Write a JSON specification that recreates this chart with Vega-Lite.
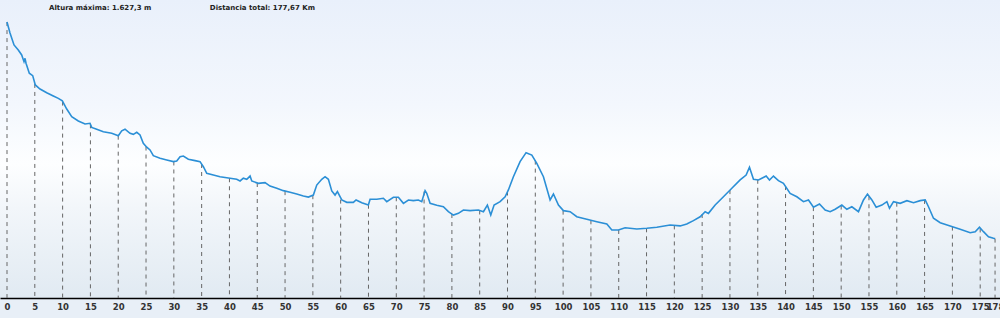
{
  "$schema": "https://vega.github.io/schema/vega-lite/v6.json",
  "width": 1000,
  "height": 298,
  "autosize": {"type": "none"},
  "padding": {"left": 0, "top": 0, "right": 0, "bottom": 20},
  "background": "#e8eff7",
  "config": {
    "view": {
      "stroke": null,
      "fill": {"gradient": "linear", "x1": 0, "y1": 0, "x2": 0, "y2": 1,
        "stops": [
          {"offset": 0, "color": "#e9f0fb"},
          {"offset": 0.35, "color": "#f3f7fd"},
          {"offset": 0.55, "color": "#fdfeff"},
          {"offset": 0.7, "color": "#f2f6fa"},
          {"offset": 1, "color": "#e1eaf2"}
        ]}
    }
  },
  "title": {
    "text": "Altura máxima: 1.627,3 m\u00a0\u00a0\u00a0\u00a0\u00a0\u00a0\u00a0\u00a0\u00a0\u00a0\u00a0\u00a0\u00a0\u00a0\u00a0\u00a0\u00a0\u00a0\u00a0\u00a0\u00a0\u00a0\u00a0\u00a0Distancia total: 177,67 Km",
    "anchor": "start",
    "frame": "group",
    "orient": "top",
    "offset": -11,
    "dx": 49,
    "font": "DejaVu Sans",
    "fontSize": 7,
    "fontWeight": "bold",
    "color": "#222222"
  },
  "datasets": {
    "perfil": [
      {"km": 0, "altitud": 1627}, {"km": 0.54, "altitud": 1562}, {"km": 1.26, "altitud": 1492}, {"km": 2.03, "altitud": 1462},
      {"km": 2.64, "altitud": 1433}, {"km": 3.06, "altitud": 1393}, {"km": 3.24, "altitud": 1413}, {"km": 3.42, "altitud": 1384},
      {"km": 4.01, "altitud": 1325}, {"km": 4.62, "altitud": 1311}, {"km": 5.09, "altitud": 1256}, {"km": 5.94, "altitud": 1232},
      {"km": 7.14, "altitud": 1210}, {"km": 8.33, "altitud": 1191}, {"km": 9.23, "altitud": 1177}, {"km": 9.95, "altitud": 1162},
      {"km": 10.74, "altitud": 1114}, {"km": 11.64, "altitud": 1069}, {"km": 12.82, "altitud": 1044}, {"km": 14.03, "altitud": 1026},
      {"km": 14.93, "altitud": 1030}, {"km": 15.23, "altitud": 1006}, {"km": 16.13, "altitud": 995}, {"km": 17.32, "altitud": 980},
      {"km": 18.83, "altitud": 971}, {"km": 20.02, "altitud": 957}, {"km": 20.63, "altitud": 986}, {"km": 21.22, "altitud": 995},
      {"km": 22.12, "altitud": 971}, {"km": 22.72, "altitud": 965}, {"km": 23.33, "altitud": 977}, {"km": 23.92, "altitud": 961},
      {"km": 24.51, "altitud": 912}, {"km": 25.13, "altitud": 889}, {"km": 25.72, "altitud": 873}, {"km": 26.31, "altitud": 839},
      {"km": 27.52, "altitud": 824}, {"km": 28.72, "altitud": 814}, {"km": 29.91, "altitud": 804}, {"km": 30.52, "altitud": 808},
      {"km": 31.12, "altitud": 833}, {"km": 31.71, "altitud": 837}, {"km": 32.61, "altitud": 818}, {"km": 33.81, "altitud": 810},
      {"km": 34.71, "altitud": 804}, {"km": 35.31, "altitud": 774}, {"km": 35.92, "altitud": 735}, {"km": 37.1, "altitud": 725},
      {"km": 38.31, "altitud": 715}, {"km": 40.11, "altitud": 706}, {"km": 41.31, "altitud": 700}, {"km": 41.91, "altitud": 690},
      {"km": 42.5, "altitud": 706}, {"km": 43.11, "altitud": 700}, {"km": 43.71, "altitud": 719}, {"km": 44.01, "altitud": 690},
      {"km": 45.2, "altitud": 676}, {"km": 46.4, "altitud": 680}, {"km": 47.3, "altitud": 660}, {"km": 48.51, "altitud": 647},
      {"km": 49.69, "altitud": 633}, {"km": 50.9, "altitud": 623}, {"km": 52.1, "altitud": 613}, {"km": 53.29, "altitud": 601},
      {"km": 54.19, "altitud": 595}, {"km": 55.09, "altitud": 607}, {"km": 55.7, "altitud": 666}, {"km": 56.6, "altitud": 700},
      {"km": 57.19, "altitud": 715}, {"km": 57.79, "altitud": 700}, {"km": 58.4, "altitud": 631}, {"km": 58.99, "altitud": 607},
      {"km": 59.41, "altitud": 627}, {"km": 59.89, "altitud": 597}, {"km": 60.2, "altitud": 578}, {"km": 61.1, "altitud": 564},
      {"km": 62.28, "altitud": 564}, {"km": 62.77, "altitud": 578}, {"km": 63.8, "altitud": 562}, {"km": 64.98, "altitud": 548},
      {"km": 65.29, "altitud": 582}, {"km": 66.49, "altitud": 582}, {"km": 67.68, "altitud": 588}, {"km": 68.29, "altitud": 568},
      {"km": 69.48, "altitud": 594}, {"km": 70.38, "altitud": 594}, {"km": 71.28, "altitud": 558}, {"km": 72.18, "altitud": 578},
      {"km": 73.07, "altitud": 574}, {"km": 73.97, "altitud": 578}, {"km": 74.58, "altitud": 568}, {"km": 75.18, "altitud": 633},
      {"km": 75.48, "altitud": 617}, {"km": 76.08, "altitud": 558}, {"km": 77.28, "altitud": 547}, {"km": 78.47, "altitud": 538},
      {"km": 79.37, "altitud": 509}, {"km": 80.27, "altitud": 489}, {"km": 81.17, "altitud": 499}, {"km": 82.07, "altitud": 519},
      {"km": 83.27, "altitud": 515}, {"km": 84.77, "altitud": 519}, {"km": 85.67, "altitud": 509}, {"km": 86.38, "altitud": 548},
      {"km": 86.99, "altitud": 489}, {"km": 87.59, "altitud": 548}, {"km": 88.67, "altitud": 568}, {"km": 89.57, "altitud": 597},
      {"km": 90.16, "altitud": 637}, {"km": 91.06, "altitud": 715}, {"km": 92.26, "altitud": 804}, {"km": 93.34, "altitud": 857},
      {"km": 94.37, "altitud": 843}, {"km": 95.27, "altitud": 794}, {"km": 96.46, "altitud": 715}, {"km": 97.66, "altitud": 578},
      {"km": 98.26, "altitud": 613}, {"km": 99.16, "altitud": 548}, {"km": 100.05, "altitud": 515}, {"km": 101.26, "altitud": 509},
      {"km": 102.46, "altitud": 479}, {"km": 104.26, "altitud": 464}, {"km": 106.06, "altitud": 450}, {"km": 107.86, "altitud": 436},
      {"km": 108.76, "altitud": 401}, {"km": 109.95, "altitud": 401}, {"km": 111.15, "altitud": 414}, {"km": 113.26, "altitud": 407},
      {"km": 115.05, "altitud": 411}, {"km": 116.85, "altitud": 417}, {"km": 119.24, "altitud": 430}, {"km": 121.04, "altitud": 425},
      {"km": 122.24, "altitud": 436}, {"km": 123.43, "altitud": 456}, {"km": 124.64, "altitud": 479}, {"km": 125.54, "altitud": 509},
      {"km": 126.13, "altitud": 499}, {"km": 127.34, "altitud": 548}, {"km": 128.83, "altitud": 597}, {"km": 130.34, "altitud": 647},
      {"km": 131.83, "altitud": 696}, {"km": 132.91, "altitud": 725}, {"km": 133.51, "altitud": 771}, {"km": 134.23, "altitud": 700},
      {"km": 135.13, "altitud": 696}, {"km": 135.74, "altitud": 706}, {"km": 136.51, "altitud": 719}, {"km": 137.11, "altitud": 696},
      {"km": 137.82, "altitud": 719}, {"km": 138.72, "altitud": 692}, {"km": 139.62, "altitud": 676}, {"km": 140.82, "altitud": 617},
      {"km": 142.03, "altitud": 597}, {"km": 143.22, "altitud": 568}, {"km": 144.12, "altitud": 578}, {"km": 145.02, "altitud": 535},
      {"km": 146.1, "altitud": 554}, {"km": 147.12, "altitud": 519}, {"km": 148.02, "altitud": 509}, {"km": 148.92, "altitud": 523},
      {"km": 150.12, "altitud": 548}, {"km": 151.02, "altitud": 523}, {"km": 151.92, "altitud": 538}, {"km": 153.11, "altitud": 509},
      {"km": 154.01, "altitud": 578}, {"km": 154.73, "altitud": 613}, {"km": 155.52, "altitud": 578}, {"km": 156.29, "altitud": 535},
      {"km": 157.32, "altitud": 548}, {"km": 158.22, "altitud": 568}, {"km": 158.69, "altitud": 529}, {"km": 159.41, "altitud": 568},
      {"km": 160.61, "altitud": 558}, {"km": 161.82, "altitud": 574}, {"km": 163.01, "altitud": 562}, {"km": 164.21, "altitud": 574},
      {"km": 165.11, "altitud": 578}, {"km": 165.7, "altitud": 538}, {"km": 166.6, "altitud": 470}, {"km": 167.81, "altitud": 444},
      {"km": 169.6, "altitud": 425}, {"km": 171.4, "altitud": 405}, {"km": 173.2, "altitud": 385}, {"km": 174.1, "altitud": 391},
      {"km": 174.87, "altitud": 417}, {"km": 175.59, "altitud": 391}, {"km": 176.49, "altitud": 361}, {"km": 177.39, "altitud": 352},
      {"km": 177.67, "altitud": 350}
    ],
    "marcas": [
      {"km": 0, "altitud": 1627}, {"km": 5, "altitud": 1262}, {"km": 10, "altitud": 1158}, {"km": 15, "altitud": 1024},
      {"km": 20, "altitud": 957}, {"km": 25, "altitud": 893}, {"km": 30, "altitud": 805}, {"km": 35, "altitud": 790},
      {"km": 40, "altitud": 706}, {"km": 45, "altitud": 678}, {"km": 50, "altitud": 630}, {"km": 55, "altitud": 606},
      {"km": 60, "altitud": 580}, {"km": 65, "altitud": 550}, {"km": 70, "altitud": 594}, {"km": 75, "altitud": 628},
      {"km": 80, "altitud": 495}, {"km": 85, "altitud": 516}, {"km": 90, "altitud": 628}, {"km": 95, "altitud": 810},
      {"km": 100, "altitud": 515}, {"km": 105, "altitud": 458}, {"km": 110, "altitud": 401}, {"km": 115, "altitud": 411},
      {"km": 120, "altitud": 428}, {"km": 125, "altitud": 495}, {"km": 130, "altitud": 636}, {"km": 135, "altitud": 697},
      {"km": 140, "altitud": 660}, {"km": 145, "altitud": 536}, {"km": 150, "altitud": 545}, {"km": 155, "altitud": 600},
      {"km": 160, "altitud": 562}, {"km": 165, "altitud": 578}, {"km": 170, "altitud": 421}, {"km": 175, "altitud": 410},
      {"km": 177.67, "altitud": 350}
    ]
  },
  "encoding": {
    "x": {
      "field": "km",
      "type": "quantitative",
      "scale": {"domain": [-1.259, 178.56], "nice": false, "zero": false},
      "axis": {
        "title": null,
        "values": [0, 5, 10, 15, 20, 25, 30, 35, 40, 45, 50, 55, 60, 65, 70, 75, 80, 85, 90, 95, 100, 105, 110, 115, 120, 125, 130, 135, 140, 145, 150, 155, 160, 165, 170, 175, 177.67],
        "format": ".0f",
        "grid": false,
        "ticks": false,
        "labelOverlap": false,
        "labelBound": false,
        "labelFlush": false,
        "domainColor": "#000000",
        "domainWidth": 1.5,
        "labelFont": "DejaVu Sans",
        "labelFontSize": 8.5,
        "labelFontWeight": "bold",
        "labelColor": "#333333",
        "labelPadding": 4
      }
    },
    "y": {
      "field": "altitud",
      "type": "quantitative",
      "scale": {"domain": [0, 1757], "nice": false},
      "axis": null
    }
  },
  "layer": [
    {
      "data": {"name": "marcas"},
      "mark": {"type": "rule", "color": "#666666", "strokeWidth": 1, "strokeDash": [4, 4]},
      "encoding": {"y2": {"datum": 0}}
    },
    {
      "data": {"name": "perfil"},
      "mark": {"type": "line", "color": "#2b8fd6", "strokeWidth": 1.6, "interpolate": "linear"}
    }
  ]
}
